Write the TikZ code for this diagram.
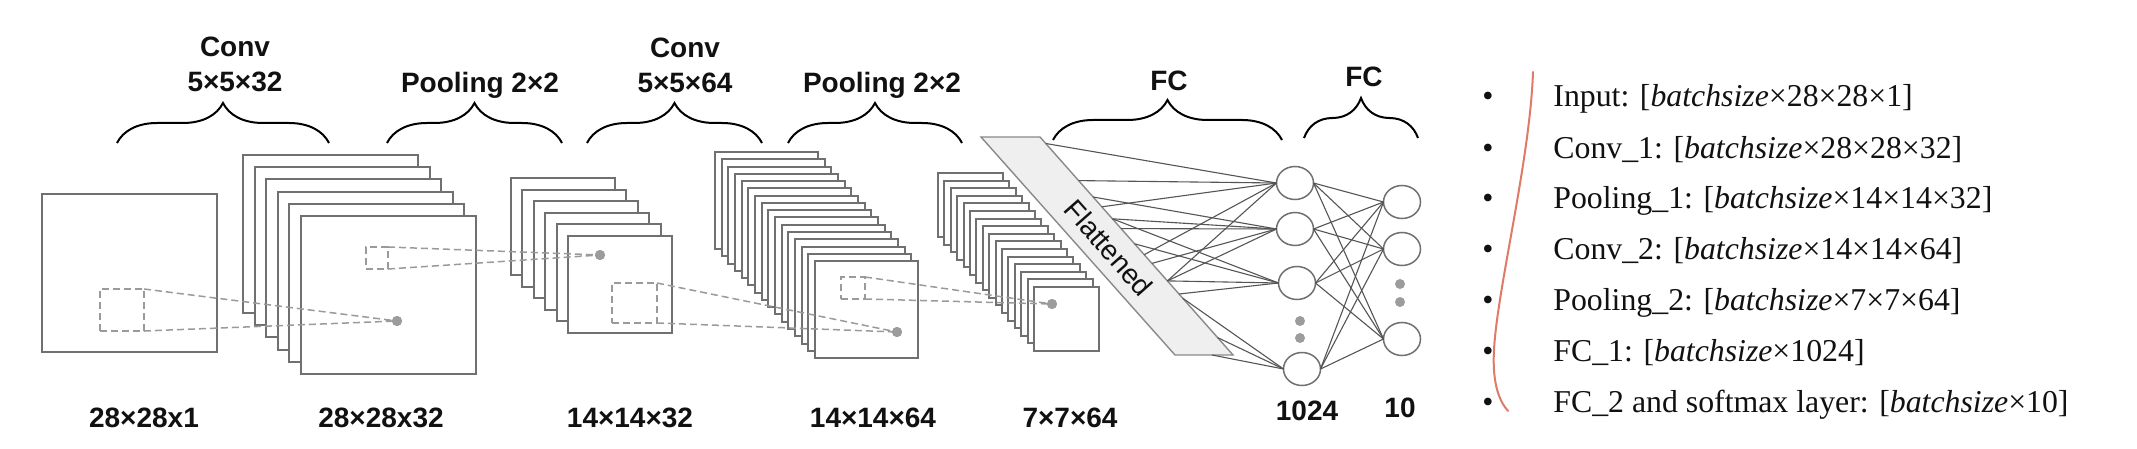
\documentclass[tikz,border=0pt]{standalone}
\usepackage{fontspec}
\setmainfont{Liberation Serif}
\newfontfamily\labfont{Liberation Sans}
\usetikzlibrary{shapes.geometric,decorations.pathreplacing}

\definecolor{edgegray}{HTML}{707070}
\definecolor{dashgray}{HTML}{9A9A9A}
\definecolor{dotgray}{HTML}{9C9C9C}
\definecolor{wiregray}{HTML}{555555}
\definecolor{flatfill}{HTML}{EFEFEF}
\definecolor{flatedge}{HTML}{8A8A8A}
\definecolor{redline}{HTML}{E07A68}
\definecolor{txt}{HTML}{111111}

\begin{document}
\begin{tikzpicture}[x=0.5pt,y=-0.5pt,
  layer/.style={draw=edgegray, fill=white, line width=1pt},
  field/.style={draw=dashgray, dash pattern=on 3.5pt off 2pt, line width=0.75pt},
  fieldbox/.style={field, rectangle, inner sep=0pt, outer sep=0pt, anchor=north west},
  unitdot/.style={circle, fill=dotgray, inner sep=0pt, minimum size=5pt},
  neuron/.style={ellipse, draw=edgegray, line width=0.75pt, fill=white, minimum width=18.5pt, minimum height=16.5pt, inner sep=0pt, outer sep=0pt},
  wire/.style={draw=wiregray, line width=0.55pt},
  bracebar/.style={decorate, decoration={brace, amplitude=20pt}, line width=1pt, draw=black},
  lab/.style={font=\labfont\fontsize{14}{16}\selectfont\bfseries, text=txt, anchor=base, inner sep=0pt},
  item/.style={font=\fontsize{15.9}{19}\selectfont, text=txt, anchor=base west, inner sep=0pt},
  bul/.style={font=\fontsize{15.9}{19}\selectfont, text=txt, anchor=base, inner sep=0pt}
]
\useasboundingbox (0,0) rectangle (2137,449);
\fill[white] (0,0) rectangle (2137,449);

% ---------- input ----------
\draw[layer] (42,194) rectangle ++(175,158);
% ---------- conv 1 stack ----------
\foreach \i in {0,...,5} {
  \draw[layer] (243+11.6*\i,155+12.2*\i) rectangle ++(175,158);
}
% ---------- pooling 1 stack ----------
\foreach \i in {0,...,5} {
  \draw[layer] (511+11.4*\i,178+11.6*\i) rectangle ++(104,97);
}
% ---------- conv 2 stack ----------
\foreach \i in {0,...,15} {
  \draw[layer] (715+6.67*\i,152+7.27*\i) rectangle ++(103,97);
}
% ---------- pooling 2 stack ----------
\foreach \i in {0,...,15} {
  \draw[layer] (938+6.4*\i,173+7.6*\i) rectangle ++(65,64);
}

% ---------- receptive fields ----------
\node[fieldbox, minimum width=22pt, minimum height=21pt] (r0) at (100,289) {};
\node[fieldbox, minimum width=11pt, minimum height=11pt] (r1) at (366,247) {};
\node[fieldbox, minimum width=22.5pt, minimum height=20pt] (r2) at (612,283) {};
\node[fieldbox, minimum width=12pt, minimum height=11pt] (r3) at (841,277) {};
\node[unitdot] (d1) at (397,321) {};
\node[unitdot] (d2) at (600,255) {};
\node[unitdot] (d3) at (897,332) {};
\node[unitdot] (d4) at (1052,304) {};
\draw[field] (r0.north east) -- (d1.center) (r0.south east) -- (d1.center);
\draw[field] (r1.north east) -- (d2.center) (r1.south east) -- (d2.center);
\draw[field] (r2.north east) -- (d3.center) (r2.south east) -- (d3.center);
\draw[field] (r3.north east) -- (d4.center) (r3.south east) -- (d4.center);
\node[unitdot] at (d1) {};
\node[unitdot] at (d2) {};
\node[unitdot] at (d3) {};
\node[unitdot] at (d4) {};

% ---------- flattened ----------
\draw[draw=flatedge, fill=flatfill, line width=0.7pt] (981,137) -- (1040,137) -- (1233,355) -- (1175,355) -- cycle;
\node[rotate=-48.5, font=\labfont\fontsize{14}{16}\selectfont, text=txt, inner sep=0pt] (flat) at (1109,248) {Flattened};

\coordinate (s1) at (1045.8,143.5);
\coordinate (s2) at (1078.6,180.6);
\coordinate (s3) at (1093.1,197);
\coordinate (s4) at (1101.8,206.8);
\coordinate (s5) at (1112.4,218.8);
\coordinate (s6) at (1121.1,228.6);
\coordinate (s7) at (1134.6,243.8);
\coordinate (s8) at (1144.2,254.7);
\coordinate (s9) at (1151.9,263.4);
\coordinate (s10) at (1167.4,280.9);
\coordinate (s11) at (1179.0,294);
\coordinate (s12) at (1182.8,298.3);
\coordinate (s13) at (1217.6,337.6);
\coordinate (s14) at (1212,355);

% ---------- neurons ----------
\node[neuron] (n1) at (1295,183) {};
\node[neuron] (n2) at (1295,229) {};
\node[neuron] (n3) at (1297,283) {};
\node[neuron] (n4) at (1302,369) {};
\node[neuron] (m1) at (1402,202) {};
\node[neuron] (m2) at (1402,249) {};
\node[neuron] (m3) at (1402,339) {};
\node[unitdot] (e1) at (1300,321) {};
\node[unitdot] (e2) at (1300,338) {};
\node[unitdot] (f1) at (1400,284) {};
\node[unitdot] (f2) at (1400,302) {};

\foreach \s/\n in {s1/n1,s2/n1,s3/n2,s4/n1,s5/n2,s5/n3,s6/n2,s7/n3,s8/n1,s9/n2,s10/n1,s10/n2,s10/n3,s11/n3,s12/n4,s13/n4,s14/n4} {
  \draw[wire] (\s) -- (\n.west);
}
\foreach \a in {n1,n2,n3,n4} {
  \foreach \b in {m1,m2,m3} {
    \draw[wire] (\a.east) -- (\b.west);
  }
}

% ---------- braces ----------
\draw[bracebar] (117,143) -- (329,143);
\draw[bracebar] (387,143) -- (562,143);
\draw[bracebar] (587,143) -- (762,143);
\draw[bracebar] (788,143) -- (962,143);
\draw[bracebar] (1053,140) -- (1282,140);
\draw[bracebar] (1304,138) -- (1418,138);

% ---------- top labels ----------
\node[lab] (t1a) at (235,57) {Conv};
\node[lab] (t1b) at (235,92) {5×5×32};
\node[lab] (t2) at (480,93) {Pooling 2×2};
\node[lab] (t3a) at (685,58) {Conv};
\node[lab] (t3b) at (685,93) {5×5×64};
\node[lab] (t4) at (882,93) {Pooling 2×2};
\node[lab] (t5) at (1169,91) {FC};
\node[lab] (t6) at (1364,87) {FC};

% ---------- bottom labels ----------
\node[lab] (b1) at (144,427) {28×28x1};
\node[lab] (b2) at (381,427) {28×28x32};
\node[lab] (b3) at (630,427) {14×14×32};
\node[lab] (b4) at (873,427) {14×14×64};
\node[lab] (b5) at (1070,427) {7×7×64};
\node[lab] (b6) at (1307,420) {1024};
\node[lab] (b7) at (1400,417) {10};

% ---------- right list ----------
\draw[redline, line width=1pt, line cap=round] (1533,72) .. controls (1530,160) and (1497,290) .. (1494,350) .. controls (1492,385) and (1500,402) .. (1508,411);
\foreach \k/\y in {1/107,2/158,3/208,4/259,5/310,6/361,7/412} {
  \node[bul] (bu\k) at (1488,\y) {•};
}
\node[item] (l1) at (1553,107) {Input: [\textit{batchsize}×28×28×1]};
\node[item] (l2) at (1553,158) {Conv\_1: [\textit{batchsize}×28×28×32]};
\node[item] (l3) at (1553,208) {Pooling\_1: [\textit{batchsize}×14×14×32]};
\node[item] (l4) at (1553,259) {Conv\_2: [\textit{batchsize}×14×14×64]};
\node[item] (l5) at (1553,310) {Pooling\_2: [\textit{batchsize}×7×7×64]};
\node[item] (l6) at (1553,361) {FC\_1: [\textit{batchsize}×1024]};
\node[item] (l7) at (1553,412) {FC\_2 and softmax layer: [\textit{batchsize}×10]};
\end{tikzpicture}
\end{document}
